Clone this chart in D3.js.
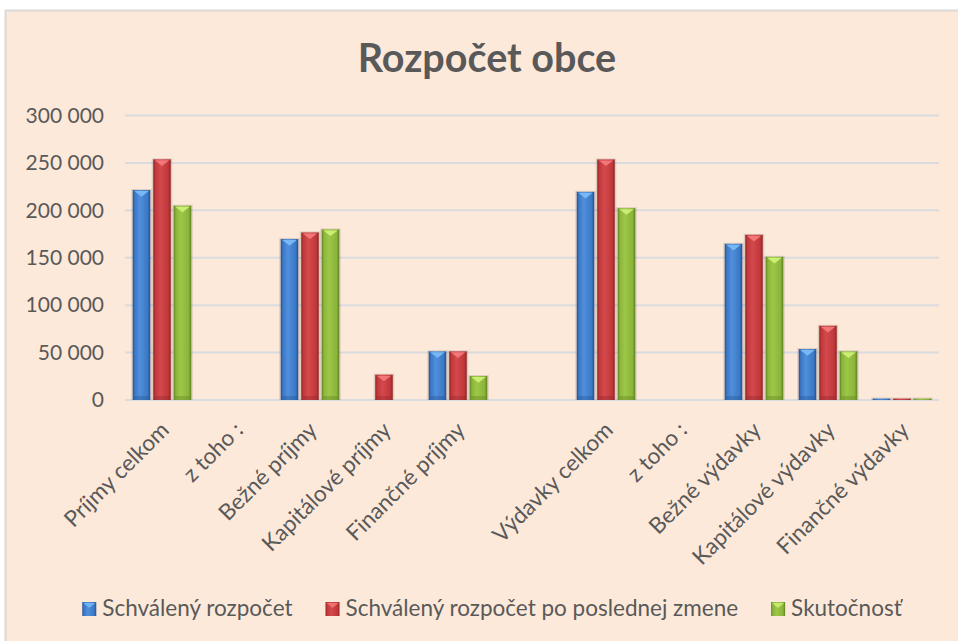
<!DOCTYPE html>
<html>
<head>
<meta charset="utf-8">
<script src="https://cdn.jsdelivr.net/npm/d3@7"></script>
<style>
  body { margin: 0; background: #fff; }
  svg { display: block; }
  text { font-family: Lato, "Open Sans", sans-serif; fill: #595959; }
</style>
</head>
<body>
<svg id="chart" width="958" height="641"></svg>
<script>
// chart data
const categories = ["Príjmy celkom", "z toho :", "Bežné príjmy", "Kapitálové príjmy", "Finančné príjmy", "",
                    "Výdavky celkom", "z toho :", "Bežné výdavky", "Kapitálové výdavky", "Finančné výdavky"];
const seriesNames = ["Schválený rozpočet", "Schválený rozpočet po poslednej zmene", "Skutočnosť"];
const schvaleny = [221400, 0, 169700, 0, 51300, 0, 219500, 0, 164700, 53700, 1500];
const poZmene   = [253800, 0, 176700, 26700, 51300, 0, 253700, 0, 174200, 78300, 1500];
const skutocnost = [204900, 0, 179900, 0, 25300, 0, 202300, 0, 151000, 51300, 1500];
const yTicks = [0, 50000, 100000, 150000, 200000, 250000, 300000];

const series = [schvaleny, poZmene, skutocnost];

// colours: [edge, body, light, top facet]
const palette = [
    { edge: "#24508f", body: "#3b78c6", light: "#4f8fdb", top: "#7cbcf6" },
    { edge: "#8e2527", body: "#c2373a", light: "#d34a4c", top: "#f47d7c" },
    { edge: "#5f7f22", body: "#8bb53a", light: "#9cc747", top: "#d2f27a" }
];

const svg = d3.select("#chart");
const defs = svg.append("defs");

palette.forEach((p, i) => {
    const g = defs.append("linearGradient")
        .attr("id", "bar" + i)
        .attr("x1", 0).attr("x2", 1).attr("y1", 0).attr("y2", 0);
    g.append("stop").attr("offset", "0%").attr("stop-color", p.edge);
    g.append("stop").attr("offset", "12%").attr("stop-color", p.body);
    g.append("stop").attr("offset", "40%").attr("stop-color", p.light);
    g.append("stop").attr("offset", "85%").attr("stop-color", p.body);
    g.append("stop").attr("offset", "100%").attr("stop-color", p.edge);
});

// chart area background
svg.append("rect")
    .attr("x", 5.5).attr("y", 10.5)
    .attr("width", 970).attr("height", 650)
    .attr("fill", "#fde9d9")
    .attr("stroke", "#d9d9d9")
    .attr("stroke-width", 2);

svg.append("text")
    .attr("x", 487).attr("y", 72)
    .attr("text-anchor", "middle")
    .style("font-size", "39.5px")
    .style("font-weight", "bold")
    .text("Rozpočet obce");

const x0 = d3.scaleBand()
    .domain(d3.range(categories.length))
    .range([125, 939])
    .padding(0);

const groupPad = (x0.bandwidth() - 58.5) / 2;
const x1 = d3.scaleBand()
    .domain(d3.range(series.length))
    .range([groupPad, x0.bandwidth() - groupPad])
    .paddingInner(0.146)
    .paddingOuter(0);

const y = d3.scaleLinear()
    .domain([0, 300000])
    .range([400, 115.5]);

// gridlines + y labels
const yAxis = svg.append("g")
    .call(d3.axisLeft(y)
        .tickValues(yTicks)
        .tickSize(0)
        .tickPadding(0)
        .tickFormat(d => d3.format(",")(d).replace(/,/g, " ")));
yAxis.select(".domain").remove();
yAxis.selectAll("text")
    .attr("x", 104)
    .style("font-size", "21px")
    .style("font-family", "Lato")
    .attr("fill", "#595959");

svg.append("g")
    .selectAll("line")
    .data(yTicks)
    .enter().append("line")
    .attr("x1", 125).attr("x2", 939)
    .attr("y1", d => y(d)).attr("y2", d => y(d))
    .attr("stroke", "#d9dbde")
    .attr("stroke-width", 2);

// bars
const bars = [];
categories.forEach((c, ci) => {
    series.forEach((s, si) => {
        bars.push({ ci, si, value: s[ci] });
    });
});

const barG = svg.append("g")
    .selectAll("g")
    .data(bars.filter(d => d.value > 0))
    .enter().append("g")
    .attr("transform", d => `translate(${x0(d.ci) + x1(d.si)},0)`);

const bw = x1.bandwidth();

// soft shadow
barG.append("rect")
    .attr("x", -1.5)
    .attr("y", d => y(d.value) - 1)
    .attr("width", bw + 3)
    .attr("height", d => y(0) - y(d.value) + 1)
    .attr("fill", "#000")
    .attr("opacity", 0.12);

barG.append("rect")
    .attr("x", 0)
    .attr("y", d => y(d.value))
    .attr("width", bw)
    .attr("height", d => y(0) - y(d.value))
    .attr("fill", d => `url(#bar${d.si})`);

// bevel top facet
barG.append("polygon")
    .attr("points", d => {
        const t = y(d.value);
        const h = Math.min(bw * 0.38, (y(0) - t) / 2);
        return `1.5,${t + 1} ${bw - 1.5},${t + 1} ${bw / 2},${t + h}`;
    })
    .attr("fill", d => palette[d.si].top)
    .attr("opacity", 0.9);

// bottom darker facet
barG.append("rect")
    .attr("x", 1.5)
    .attr("y", d => y(0) - Math.min(4, (y(0) - y(d.value)) / 3))
    .attr("width", bw - 3)
    .attr("height", d => Math.min(4, (y(0) - y(d.value)) / 3))
    .attr("fill", d => palette[d.si].edge)
    .attr("opacity", 0.35);

// category labels
svg.append("g")
    .selectAll("text")
    .data(categories)
    .enter().append("text")
    .attr("transform", (d, i) => `translate(${x0(i) + x0.bandwidth() / 2 - 4},${419}) rotate(-45)`)
    .attr("text-anchor", "end")
    .attr("dominant-baseline", "hanging")
    .style("font-size", "22.5px")
    .text(d => d);

// legend
const legend = svg.append("g");
const items = legend.selectAll("g")
    .data(seriesNames)
    .enter().append("g");

items.append("rect")
    .attr("y", 602)
    .attr("width", 14).attr("height", 14)
    .attr("fill", (d, i) => `url(#bar${i})`);
items.append("polygon")
    .attr("points", "1,603 13,603 7,608")
    .attr("fill", (d, i) => palette[i].top)
    .attr("opacity", 0.8);
items.append("text")
    .attr("x", 20)
    .attr("y", 616)
    .style("font-size", "22.5px")
    .text(d => d);

// lay out legend items in a row, centred
const widths = [];
items.each(function () {
    const w = 20 + this.querySelector("text").getComputedTextLength();
    widths.push(w);
});
const gap = 33;
const total = d3.sum(widths) + gap * (widths.length - 1);
const start = 492 - total / 2;
items.attr("transform", (d, i) => {
    const tx = start + d3.sum(widths.slice(0, i)) + gap * i;
    return `translate(${tx},0)`;
});
</script>
</body>
</html>
